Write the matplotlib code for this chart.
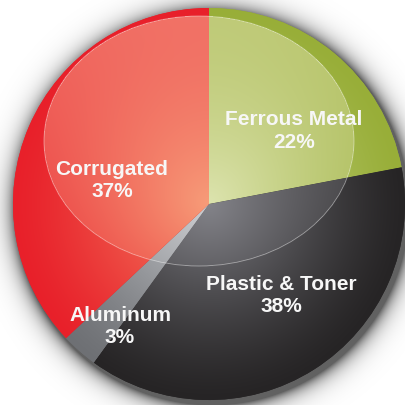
import numpy as np
import matplotlib
matplotlib.use("Agg")
import matplotlib.pyplot as plt
from matplotlib.patches import Ellipse

# Waste stream composition
labels = ["Ferrous Metal", "Plastic & Toner", "Aluminum", "Corrugated"]
shares = [22, 38, 3, 37]

# Rim colour and centre colour of each slice (radial shading)
rim_colors = ["#98AE38", "#262425", "#6E7074", "#E8202A"]
core_colors = ["#D6E0A6", "#7E7E84", "#CACCD0", "#F58A68"]
# Tint of the glossy highlight over each slice
gloss_colors = ["#FAF5D8", "#9A9AA0", "#E2E2E4", "#FFEBC0"]

# Label anchor points (pixels, y measured upward)
label_pos = [(294, 274), (281, 109.5), (120, 78.5), (112, 224.5)]

W, H = 406, 405
cx, cy, R = 209, 201, 196

fig = plt.figure(figsize=(W / 100, H / 100), dpi=100)
ax = fig.add_axes([0, 0, 1, 1])

wedges, _ = ax.pie(shares, startangle=90, counterclock=False, center=(cx, cy),
                   radius=R, colors=rim_colors, frame=True,
                   wedgeprops=dict(linewidth=0, antialiased=True, zorder=2))
ax.set_xlim(0, W)
ax.set_ylim(0, H)
ax.set_aspect("auto")
ax.axis("off")

# pixel grid
X, Y = np.meshgrid(np.arange(W) + 0.5, np.arange(H) + 0.5)

# soft drop shadow behind the disc
sx, sy = cx + 3, cy - 4
d = np.hypot(X - sx, Y - sy) - (R + 1)
sh_alpha = np.where(d > 0, 0.62 * np.exp(-d / 8.5), 0.62)
shadow = np.zeros((H, W, 4))
shadow[..., 3] = sh_alpha
ax.imshow(shadow, extent=(0, W, 0, H), origin="lower", zorder=1,
          interpolation="bilinear")

# radial light weight
r = np.hypot(X - cx, Y - cy) / R
w_r = np.clip(1 - r, 0, 1) ** 1.3

# glossy ellipse highlight, an overlay fading toward its bottom
ex, ey, ea, eb = 199, 264, 155, 125
inside = ((X - ex) / ea) ** 2 + ((Y - ey) / eb) ** 2 < 1
v = np.clip((Y - (ey - eb)) / (2 * eb), 0, 1)
a_g = np.where(inside, 0.40 * (0.3 + 0.7 * v), 0.0)[..., None]

for wedge, rim, core, gl in zip(wedges, rim_colors, core_colors, gloss_colors):
    c0 = np.array(matplotlib.colors.to_rgb(rim))
    c1 = np.array(matplotlib.colors.to_rgb(core))
    g = np.array(matplotlib.colors.to_rgb(gl))
    base = c0 + (c1 - c0) * w_r[..., None]
    lit = np.maximum(base, base + (g - base) * a_g)
    img = np.ones((H, W, 4))
    img[..., :3] = lit
    im = ax.imshow(img, extent=(0, W, 0, H), origin="lower", zorder=3,
                   interpolation="bilinear")
    im.set_clip_path(wedge)

ax.add_patch(Ellipse((ex, ey), 2 * ea, 2 * eb, fill=False, edgecolor="white",
                     alpha=0.45, linewidth=0.6, zorder=4))

for (lx, ly), name, val in zip(label_pos, labels, shares):
    ax.text(lx, ly, f"{name}\n{val}%", ha="center", va="center",
            color="#F7F7F7", fontsize=15, fontweight="bold",
            family="Liberation Sans", linespacing=1.22, zorder=5)

fig.savefig("out.png", dpi=100)
